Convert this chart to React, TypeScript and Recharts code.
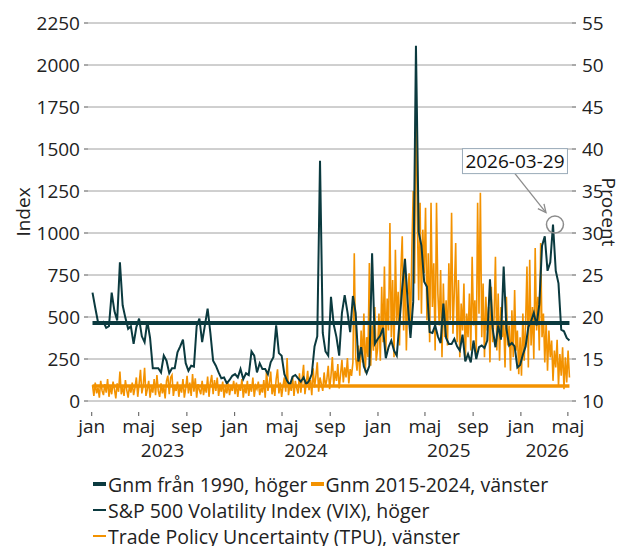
import React from "react";
import { LineChart, Line, XAxis, YAxis, CartesianGrid, ReferenceDot } from "recharts";

const FONT = "'Open Sans', 'Noto Sans', sans-serif";
const FS = 19;
const DARK = "#0B3A3F";
const ORANGE = "#F39200";
const GRID = "#a0a0a0";
const TEXT = "#222";

const ORIGIN = Date.UTC(2023, 0, 1);
const toDay = (s: string) => (Date.parse(s + "T00:00:00Z") - ORIGIN) / 86400000;

// x-axis ticks
const monthTickDates = [
  "2023-01-01", "2023-05-01", "2023-09-01",
  "2024-01-01", "2024-05-01", "2024-09-01",
  "2025-01-01", "2025-05-01", "2025-09-01",
  "2026-01-01", "2026-05-01",
];
const monthTickLabels = ["jan", "maj", "sep", "jan", "maj", "sep", "jan", "maj", "sep", "jan", "maj"];
const yearLabelDates = ["2023-07-01", "2024-07-01", "2025-07-01", "2026-03-09"];
const yearLabels = ["2023", "2024", "2025", "2026"];

const leftTicks = [0, 250, 500, 750, 1000, 1250, 1500, 1750, 2000, 2250];
const rightTicks = [10, 15, 20, 25, 30, 35, 40, 45, 50, 55];

// S&P 500 VIX, weekly (tuesdays) from 2023-01-03, procent
const vixStart = "2023-01-03";
const vix2023 = [
  22.9, 21.1, 19.4, 19.2, 19.4, 18.7, 18.9, 22.9, 20.7, 19.6, 26.5, 21.4, 19.9,
  18.6, 18.9, 16.8, 18.8, 19.8, 17.7, 17.0, 19.5, 17.5, 13.9, 13.9, 13.9, 13.4,
  15.4, 14.8, 13.3, 13.9, 13.9, 15.8, 16.5, 17.3, 14.5, 13.6, 14.2, 14.1, 18.9,
  19.8, 17.0, 19.0, 21.0, 18.1, 14.8, 14.2, 13.4, 12.7, 12.8, 12.1, 12.5, 13.0,
];
const vix2024 = [
  13.2, 12.8, 13.8, 12.6, 13.3, 13.1, 15.9, 15.4, 13.4, 14.5, 13.8, 13.8, 13.2,
  14.6, 15.2, 19.0, 15.7, 15.4, 13.2, 12.4, 11.9, 12.9, 13.1, 12.7, 12.3, 12.8,
  12.0, 12.4, 13.2, 16.5, 17.7, 38.6, 18.1, 15.9, 15.4, 22.4, 19.1, 17.6, 15.4,
  20.5, 22.6, 20.6, 18.2, 22.5, 20.5, 14.7, 16.4, 14.1, 13.3, 14.2, 27.6, 16.8, 17.35,
];
const vix2025 = [
  17.8, 18.7, 15.1, 16.4, 17.2, 16.0, 15.4, 19.4, 23.5, 26.9, 21.7, 17.5, 21.8,
  52.3, 30.1, 28.5, 24.2, 23.6, 18.2, 18.1, 19.0, 17.7, 16.9, 21.6, 17.5, 16.8,
  16.8, 17.4, 16.5, 16.0, 17.9, 14.7, 15.6, 14.6, 17.2, 15.0, 16.4, 16.6, 16.3,
  17.2, 24.5, 18.6, 16.4, 19.0, 17.3, 26.0, 18.6, 16.6, 16.9, 16.5, 14.0, 14.3,
];
const vix2026 = [
  15.5, 16.5, 18.8, 19.5, 20.5, 19.0, 21.5, 28.5, 29.6, 25.5, 26.5, 31.0, 25.5,
  24.0, 18.5, 18.3, 17.5, 17.2,
];

// Trade Policy Uncertainty, twice a week from 2023-01-03, index
const tpuStart = "2023-01-03";
const tpu2023 = [
  95, 30, 110, 45, 80, 20, 120, 60, 35, 100,
  50, 130, 25, 90, 40, 115, 70, 15, 105, 55,
  175, 40, 85, 30, 125, 65, 20, 95, 50, 110,
  35, 80, 140, 25, 100, 185, 45, 90, 197, 30,
  70, 120, 20, 85, 50, 130, 35, 155, 60, 25,
  105, 45, 90, 15, 120, 150, 40, 140, 155, 30,
  85, 60, 115, 25, 95, 50, 130, 20, 75, 150,
  45, 110, 30, 160, 55, 135, 20, 100, 65, 40,
  120, 35, 90, 50, 145, 25, 110, 155, 40, 125,
  60, 140, 30, 95, 55, 115, 20, 85, 45, 105,
  35, 90, 60, 120,
];
const tpu2024 = [
  40, 110, 25, 95, 60, 130, 20, 85, 45, 120,
  30, 100, 55, 140, 25, 90, 70, 115, 35, 80,
  50, 125, 20, 185, 60, 105, 175, 40, 95, 30,
  130, 188, 45, 110, 25, 90, 140, 55, 256, 35,
  100, 60, 145, 30, 120, 75, 45, 165, 50, 135,
  215, 40, 110, 180, 65, 125, 35, 195, 80, 150,
  230, 55, 140, 100, 60, 170, 85, 130, 210, 70,
  150, 262, 95, 180, 120, 220, 75, 160, 245, 110,
  200, 140, 255, 105, 190, 150, 230, 880, 260, 180,
  330, 150, 420, 230, 520, 170, 380, 260, 822, 210,
  450, 300, 560, 240,
];
const tpu2025 = [
  310, 520, 240, 680, 350, 800, 290, 610, 420, 1060,
  380, 720, 260, 900, 470, 650, 330, 780, 980, 420,
  850, 300, 620, 760, 400, 900, 1250, 700, 1932, 1100,
  600, 1180, 520, 1020, 760, 1150, 480, 880, 350, 1180,
  560, 820, 300, 1180, 640, 450, 780, 260, 700, 380,
  600, 330, 820, 480, 1120, 400, 650, 941, 350, 720,
  260, 580, 420, 700, 240, 520, 380, 640, 300, 858,
  450, 600, 280, 1180, 520, 1240, 380, 700, 260, 620,
  420, 560, 230, 680, 350, 500, 858, 300, 640, 240,
  560, 380, 480, 200, 620, 330, 450, 180, 540, 260,
  660, 300, 420, 160,
];
const tpu2026 = [
  380, 150, 520, 240, 460, 800, 200, 840, 330, 560,
  250, 910, 420, 620, 300, 940, 380, 520, 230, 470,
  180, 420, 260, 360, 120, 300, 200, 365, 90, 280,
  150, 320, 70, 260, 110, 300, 140,
];

const vixMean = 19.3; // Gnm från 1990
const tpuMean = 90; // Gnm 2015-2024
const markDate = "2026-03-29";
const markValue = 31;

const vix = [...vix2023, ...vix2024, ...vix2025, ...vix2026];
const tpu = [...tpu2023, ...tpu2024, ...tpu2025, ...tpu2026];
const vixData = vix.map((v, i) => ({ d: toDay(vixStart) + 7 * i, v }));
const tpuData = tpu.map((v, i) => ({ d: toDay(tpuStart) + 3.5 * i, v }));
const vixMeanData = [
  { d: vixData[0].d, v: vixMean },
  { d: vixData[vixData.length - 1].d, v: vixMean },
];
const tpuMeanData = [
  { d: tpuData[0].d, v: tpuMean },
  { d: tpuData[tpuData.length - 1].d, v: tpuMean },
];

const monthDays = monthTickDates.map(toDay);
const yearDays = yearLabelDates.map(toDay);

function XTick(props: any) {
  const { x, y, payload } = props;
  const yi = yearDays.indexOf(payload.value);
  if (yi >= 0) {
    return (
      <text x={x} y={y + 56} textAnchor="middle" fontSize={FS} fill={TEXT} fontFamily={FONT}>
        {yearLabels[yi]}
      </text>
    );
  }
  const mi = monthDays.indexOf(payload.value);
  return (
    <g>
      <line x1={x} x2={x} y1={y + 11} y2={y + 15} stroke="#555" />
      <text x={x} y={y + 32} textAnchor="middle" fontSize={FS} fill={TEXT} fontFamily={FONT}>
        {monthTickLabels[mi]}
      </text>
    </g>
  );
}

function Marker(props: any) {
  const { cx, cy } = props;
  const x1 = cx - 40;
  const y1 = cy - 51;
  const x2 = cx - 9;
  const y2 = cy - 12;
  const ang = Math.atan2(y2 - y1, x2 - x1);
  const h = 9;
  const a1 = ang + Math.PI - 0.45;
  const a2 = ang + Math.PI + 0.45;
  return (
    <g>
      <circle cx={cx} cy={cy} r={8.5} fill="none" stroke="#8c8c8c" strokeWidth={1.5} />
      <line x1={x1} y1={y1} x2={x2} y2={y2} stroke="#8c8c8c" strokeWidth={1.3} />
      <polyline
        points={`${x2 + h * Math.cos(a1)},${y2 + h * Math.sin(a1)} ${x2},${y2} ${x2 + h * Math.cos(a2)},${y2 + h * Math.sin(a2)}`}
        fill="none"
        stroke="#8c8c8c"
        strokeWidth={1.3}
      />
      <rect x={cx - 92.5} y={cy - 76} width={105} height={25} fill="#fff" stroke="#9aabb9" strokeWidth={1} />
      <text x={cx - 40} y={cy - 56.5} textAnchor="middle" fontSize={FS} fill="#111" fontFamily={FONT}>
        {markDate}
      </text>
    </g>
  );
}

const legendRows = [
  [
    { label: "Gnm från 1990, höger", color: DARK, h: 4 },
    { label: "Gnm 2015-2024, vänster", color: ORANGE, h: 4 },
  ],
  [{ label: "S&P 500 Volatility Index (VIX), höger", color: DARK, h: 2 }],
  [{ label: "Trade Policy Uncertainty (TPU), vänster", color: ORANGE, h: 2 }],
];
const legendRowCenters = [484, 510, 536];

export default function App() {
  const tickStyle = { fontSize: FS, fill: TEXT, fontFamily: FONT };
  return (
    <div style={{ position: "absolute", left: 0, top: 0, width: 618, height: 546, background: "#fff", overflow: "hidden", fontFamily: FONT }}>
      <LineChart width={618} height={546} margin={{ top: 23, right: 0, bottom: 85, left: 8 }}>
        <CartesianGrid yAxisId="left" vertical={false} stroke={GRID} strokeWidth={1} />
        <XAxis
          dataKey="d"
          type="number"
          domain={[-9.5, 1226.5]}
          allowDataOverflow
          ticks={[...monthDays, ...yearDays]}
          interval={0}
          tick={<XTick />}
          tickLine={false}
          axisLine={false}
          tickSize={0}
          tickMargin={0}
          height={60}
        />
        <YAxis
          yAxisId="left"
          domain={[0, 2250]}
          ticks={leftTicks}
          interval={0}
          width={80}
          axisLine={false}
          tickLine={{ stroke: "#555" }}
          tickSize={4}
          tickMargin={4}
          tick={tickStyle}
          label={{ value: "Index", angle: -90, position: "insideLeft", offset: 15.5, style: { textAnchor: "middle", fontSize: FS, fill: TEXT, fontFamily: FONT } }}
        />
        <YAxis
          yAxisId="right"
          orientation="right"
          domain={[10, 55]}
          ticks={rightTicks}
          interval={0}
          width={46}
          axisLine={false}
          tickLine={{ stroke: "#555" }}
          tickSize={4}
          tickMargin={6}
          tick={tickStyle}
          label={{ value: "Procent", angle: 90, position: "insideRight", offset: 9, style: { textAnchor: "middle", fontSize: FS, fill: TEXT, fontFamily: FONT } }}
        />
        <Line yAxisId="left" data={tpuData} dataKey="v" stroke={ORANGE} strokeWidth={1.6} dot={false} isAnimationActive={false} />
        <Line yAxisId="right" data={vixData} dataKey="v" stroke={DARK} strokeWidth={2} dot={false} isAnimationActive={false} />
        <Line yAxisId="left" data={tpuMeanData} dataKey="v" stroke={ORANGE} strokeWidth={3.5} dot={false} isAnimationActive={false} />
        <Line yAxisId="right" data={vixMeanData} dataKey="v" stroke={DARK} strokeWidth={4} dot={false} isAnimationActive={false} />
        <ReferenceDot yAxisId="right" x={toDay(markDate)} y={markValue} r={8.5} shape={<Marker />} ifOverflow="visible" />
      </LineChart>
      {legendRows.map((row, ri) => (
        <div
          key={ri}
          style={{ position: "absolute", left: 93, top: legendRowCenters[ri] - 13, height: 26, display: "flex", alignItems: "center", fontSize: 19.5, color: TEXT, whiteSpace: "nowrap" }}
        >
          {row.map((it, k) => (
            <div key={k} style={{ display: "flex", alignItems: "center", marginRight: 3 }}>
              <span style={{ display: "inline-block", width: 13, height: it.h, background: it.color, marginRight: 2 }} />
              <span>{it.label}</span>
            </div>
          ))}
        </div>
      ))}
    </div>
  );
}
